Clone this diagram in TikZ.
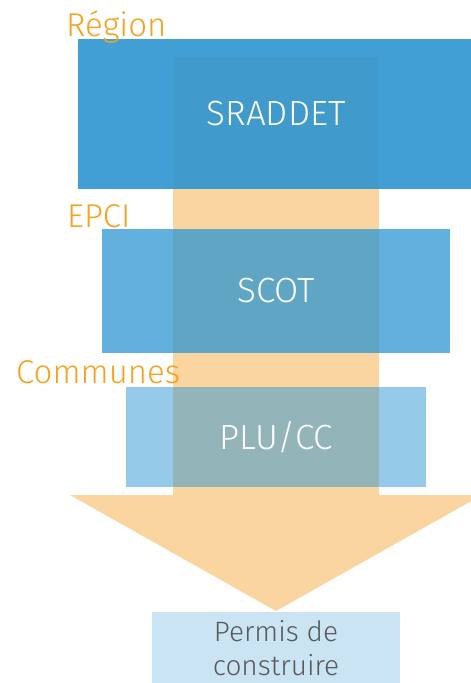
\documentclass[tikz,border=0pt]{standalone}
\usepackage{fontspec}
\setmainfont{Fira Sans}[UprightFont={* Light}]
\definecolor{arrowor}{HTML}{FBD5A0}
\definecolor{boxblue}{HTML}{2C95D1}
\definecolor{labelor}{HTML}{F5A31E}
\definecolor{darktext}{HTML}{595959}
\begin{document}
\begin{tikzpicture}[x=1pt,y=-1pt,
  lvlbox/.style={rectangle, inner sep=0pt, fill=boxblue, text=white, text opacity=1,
    font=\fontsize{35}{38}\selectfont},
  lvllabel/.style={anchor=base west, inner sep=0pt, text=labelor, font=\fontsize{33}{36}\selectfont}]
\useasboundingbox (0,0) rectangle (471,683);
% big arrow
\fill[arrowor] (173,57) -- (379,57) -- (379,495) -- (482,495) -- (276,611) -- (70,495) -- (173,495) -- cycle;
% level boxes
\node[lvlbox, fill opacity=0.9, minimum width=396pt, minimum height=150pt] (sraddet) at (276,114) {SRADDET};
\node[lvlbox, fill opacity=0.75, minimum width=348pt, minimum height=124pt] (scot) at (276,291) {SCOT};
\node[lvlbox, fill opacity=0.5, minimum width=300pt, minimum height=100pt] (plu) at (276,437) {PLU/CC};
\node[lvlbox, fill opacity=0.25, minimum width=248pt, minimum height=72pt, text=darktext,
  align=center, font=\fontsize{28}{34}\selectfont] (permis) at (276,648) {Permis de\\construire};
% labels
\node[lvllabel] (lregion) at (66,36) {Région};
\node[lvllabel] (lepci) at (67,227) {EPCI};
\node[lvllabel] (lcommunes) at (16,383) {Communes};
\end{tikzpicture}
\end{document}
